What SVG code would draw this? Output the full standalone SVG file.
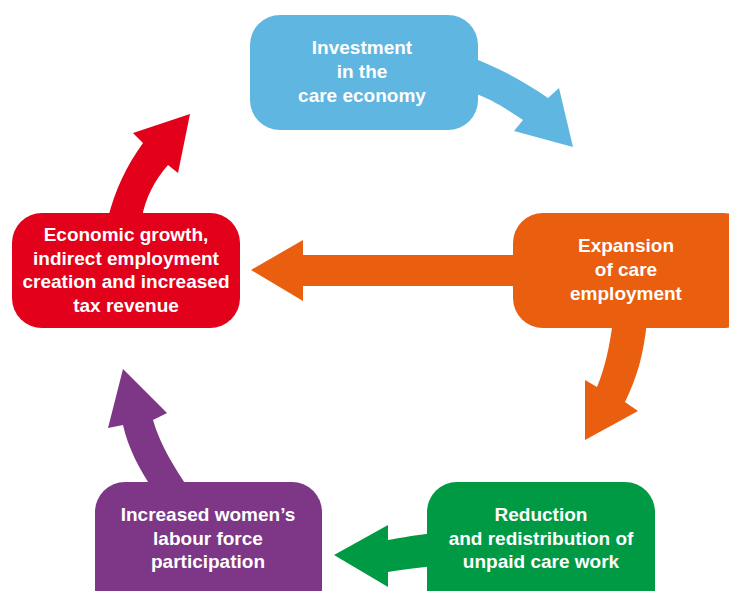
<svg xmlns="http://www.w3.org/2000/svg" width="729" height="591" viewBox="0 0 729 591">
<style>
text{font-family:"Liberation Sans",Arial,sans-serif;font-weight:bold;font-size:19px;fill:#fff;text-anchor:middle}
.blue{fill:#5FB6E0}.orange{fill:#E95E0F}.green{fill:#009A44}.purple{fill:#7D3786}.red{fill:#E2001A}
</style>
<rect width="729" height="591" fill="#fff"/>
<g id="connectors">
<path class="blue" d="M470,57 C500,68 525,82 548,98 L559,88 L573,147 L514,131 L523,120 C505,108 490,98 470,92 Z"/>
<path class="orange" d="M520,255 L303,255 L303,240 L251,270 L303,301 L303,286 L520,286 Z"/>
<path class="orange" d="M613,320 C610,345 605,368 597,387 L585,380 L585,440 L638,411 L625,402 C636,380 644,355 647,320 Z"/>
<path class="green" d="M435,533 C415,535 400,538 388,540 L388,525 L334,555 L388,587 L388,572 C400,570 415,568 435,566 Z"/>
<path class="purple" d="M152,488 C140,470 128,448 123,425 L108,428 L123,369 L167,413 L153,420 C160,445 175,468 188,488 Z"/>
<path class="red" d="M108,218 C115,190 127,165 143,143 L133,133 L190,114 L178,173 L168,165 C155,180 145,198 142,218 Z"/>
</g>
<g id="n-investment">
<rect class="blue" x="250" y="15" width="228" height="115" rx="30"/>
<text x="362" y="54">Investment</text>
<text x="362" y="78">in the</text>
<text x="362" y="102">care economy</text>
</g>
<g id="n-expansion">
<rect class="orange" x="513" y="213" width="240" height="115" rx="30"/>
<text x="626" y="252">Expansion</text>
<text x="626" y="276">of care</text>
<text x="626" y="300">employment</text>
</g>
<g id="n-reduction">
<rect class="green" x="427" y="482" width="228" height="140" rx="30"/>
<text x="541" y="521">Reduction</text>
<text x="541" y="544.5">and redistribution of</text>
<text x="541" y="568">unpaid care work</text>
</g>
<g id="n-women">
<rect class="purple" x="95" y="482" width="227" height="140" rx="30"/>
<text x="208" y="521">Increased women’s</text>
<text x="208" y="544.5">labour force</text>
<text x="208" y="568">participation</text>
</g>
<g id="n-growth">
<rect class="red" x="12" y="213" width="228" height="115" rx="30"/>
<text x="126" y="241">Economic growth,</text>
<text x="126" y="264.5">indirect employment</text>
<text x="126" y="288">creation and increased</text>
<text x="126" y="311.5">tax revenue</text>
</g>
</svg>
